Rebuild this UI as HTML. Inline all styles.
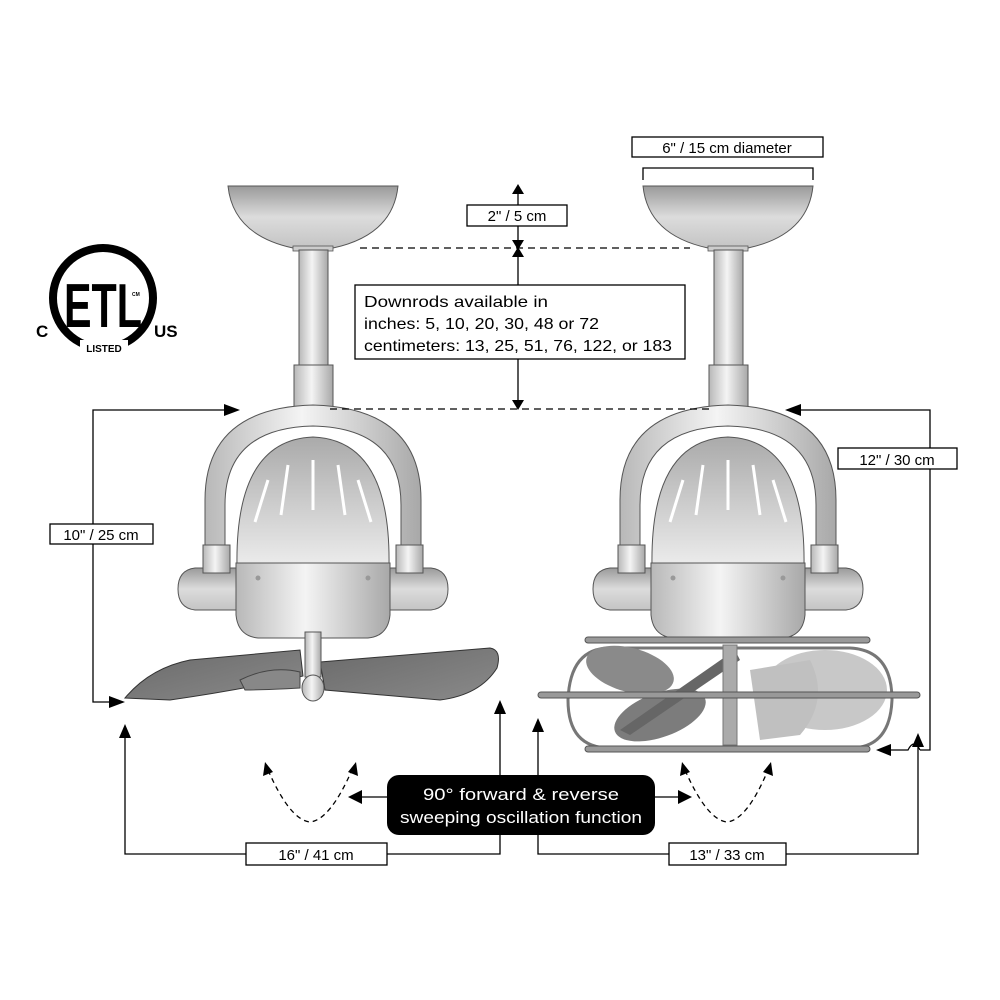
<!DOCTYPE html>
<html><head><meta charset="utf-8"><style>
html,body{margin:0;padding:0;background:#fff}
svg{display:block}
text{font-family:"Liberation Sans",sans-serif}
</style></head><body>
<svg width="1000" height="1000" viewBox="0 0 1000 1000" xmlns="http://www.w3.org/2000/svg">
<defs>
<linearGradient id="metal" x1="0" x2="1" y1="0" y2="0">
<stop offset="0" stop-color="#b8b8b8"/><stop offset="0.45" stop-color="#f4f4f4"/><stop offset="1" stop-color="#a8a8a8"/>
</linearGradient>
<linearGradient id="bowl" x1="0" x2="0" y1="0" y2="1">
<stop offset="0" stop-color="#9a9a9a"/><stop offset="0.5" stop-color="#dcdcdc"/><stop offset="1" stop-color="#c4c4c4"/>
</linearGradient>
<linearGradient id="dome" x1="0" x2="0" y1="0" y2="1">
<stop offset="0" stop-color="#aaa"/><stop offset="1" stop-color="#ececec"/>
</linearGradient>
<linearGradient id="blade" x1="0" x2="1" y1="0" y2="1">
<stop offset="0" stop-color="#6a6a6a"/><stop offset="1" stop-color="#8a8a8a"/>
</linearGradient>
<g id="fanbody">
  <path d="M-85,186 L85,186 Q80,235 20,248 L-20,248 Q-80,235 -85,186 Z" fill="url(#bowl)" stroke="#555" stroke-width="1"/>
  <rect x="-20" y="246" width="40" height="5" fill="#ccc" stroke="#555" stroke-width="0.8"/>
  <rect x="-14" y="250" width="29" height="116" fill="url(#metal)" stroke="#555" stroke-width="1"/>
  <rect x="-19" y="365" width="39" height="44" fill="url(#metal)" stroke="#555" stroke-width="1"/>
  <path d="M-108,548 L-108,500 Q-108,408 0,405 Q108,408 108,500 L108,548 L88,548 L88,505 Q88,428 0,426 Q-88,428 -88,505 L-88,548 Z" fill="url(#metal)" stroke="#555" stroke-width="1"/>
  <path d="M-75,568 L-118,568 Q-135,570 -135,589 Q-135,608 -118,610 L-75,610 Z" fill="url(#bowl)" stroke="#555" stroke-width="1"/>
  <path d="M75,568 L118,568 Q135,570 135,589 Q135,608 118,610 L75,610 Z" fill="url(#bowl)" stroke="#555" stroke-width="1"/>
  <rect x="-110" y="545" width="27" height="28" fill="url(#metal)" stroke="#555" stroke-width="1"/>
  <rect x="83" y="545" width="27" height="28" fill="url(#metal)" stroke="#555" stroke-width="1"/>
  <path d="M-76,566 Q-78,440 0,437 Q78,440 76,566 Z" fill="url(#dome)" stroke="#555" stroke-width="1"/>
  <path d="M-45,480 L-58,522 M-25,465 L-32,515 M0,460 L0,510 M25,465 L32,515 M45,480 L58,522" stroke="#fff" stroke-width="3"/>
  <path d="M-77,563 L77,563 L77,615 Q75,636 55,638 L-55,638 Q-75,636 -77,615 Z" fill="url(#metal)" stroke="#555" stroke-width="1"/>
  <circle cx="-55" cy="578" r="2.5" fill="#999"/><circle cx="55" cy="578" r="2.5" fill="#999"/>
</g>
</defs>

<g transform="translate(313,0)"><use href="#fanbody"/></g>
<path d="M125,698 Q150,668 190,660 L300,650 L303,676 Q240,690 170,700 Z" fill="url(#blade)" stroke="#333" stroke-width="1"/>
<path d="M320,662 L490,648 Q502,650 497,668 Q480,695 440,700 L325,690 Z" fill="url(#blade)" stroke="#333" stroke-width="1"/>
<path d="M240,680 Q270,665 300,672 L300,688 Q265,690 245,690 Z" fill="#888" stroke="#444"/>
<rect x="305" y="632" width="16" height="45" fill="url(#metal)" stroke="#555"/>
<ellipse cx="313" cy="688" rx="11" ry="13" fill="url(#metal)" stroke="#555"/>

<g transform="translate(728,0)"><use href="#fanbody"/></g>
<path d="M568,700 Q570,648 610,648 L850,648 Q892,650 892,700 Q890,748 850,748 L610,748 Q568,748 568,700 Z" fill="none" stroke="#777" stroke-width="3"/>
<ellipse cx="630" cy="670" rx="45" ry="22" fill="#8a8a8a" transform="rotate(15 630 670)"/>
<ellipse cx="660" cy="715" rx="48" ry="22" fill="#7c7c7c" transform="rotate(-20 660 715)"/>
<path d="M620,730 L735,650 L740,660 L630,735 Z" fill="#666"/>
<ellipse cx="825" cy="690" rx="62" ry="40" fill="#c8c8c8"/>
<path d="M750,670 L810,660 Q830,700 800,735 L760,740 Z" fill="#c0c0c0"/>
<rect x="723" y="645" width="14" height="100" fill="#aaa" stroke="#777"/>
<rect x="585" y="637" width="285" height="6" rx="3" fill="#999" stroke="#555"/>
<rect x="538" y="692" width="382" height="6" rx="3" fill="#999" stroke="#555"/>
<rect x="585" y="746" width="285" height="6" rx="3" fill="#999" stroke="#555"/>

<!-- ETL logo -->
<circle cx="103" cy="298" r="50" fill="none" stroke="#000" stroke-width="8"/>
<rect x="80" y="340" width="48" height="14" fill="#fff"/>
<text x="103" y="327" font-size="62" font-weight="bold" text-anchor="middle" fill="#000" textLength="78" lengthAdjust="spacingAndGlyphs">ETL</text>
<text x="104" y="352" font-size="10" font-weight="bold" text-anchor="middle" fill="#000">LISTED</text>
<text x="132" y="296" font-size="5" font-weight="bold" fill="#000">CM</text>
<text x="36" y="337" font-size="17" font-weight="bold" fill="#000">C</text>
<text x="154" y="337" font-size="17" font-weight="bold" fill="#000">US</text>

<g stroke="#000" stroke-width="1.3" stroke-dasharray="7,5" fill="none">
<line x1="360" y1="248" x2="690" y2="248"/>
<line x1="330" y1="409" x2="712" y2="409"/>
</g>
<g stroke="#000" stroke-width="1.3" fill="none">
<line x1="518" y1="190" x2="518" y2="404"/>
<polyline points="643,180 643,168 813,168 813,180"/>
<polyline points="235,410 93,410 93,702 120,702"/>
<polyline points="790,410 930,410 930,750 920,750"/>
<path d="M920,750 Q914,738 908,750 L880,750"/>
<polyline points="125,728 125,854 500,854 500,704"/>
<polyline points="538,722 538,854 918,854 918,738"/>
<line x1="355" y1="797" x2="388" y2="797"/>
<line x1="654" y1="797" x2="685" y2="797"/>
</g>
<g fill="#000">
<polygon points="518,184 512,194 524,194"/>
<polygon points="518,250 512,240 524,240"/>
<polygon points="518,247 512,257 524,257"/>
<polygon points="518,410 512,400 524,400"/>
<polygon points="240,410 224,404 224,416"/>
<polygon points="125,702 109,696 109,708"/>
<polygon points="785,410 801,404 801,416"/>
<polygon points="876,750 891,744 891,756"/>
<polygon points="125,724 119,738 131,738"/>
<polygon points="500,700 494,714 506,714"/>
<polygon points="538,718 532,732 544,732"/>
<polygon points="918,733 912,747 924,747"/>
<polygon points="348,797 362,790 362,804"/>
<polygon points="692,797 678,790 678,804"/>
<polygon points="265,762 263,776 273,772"/>
<polygon points="356,762 348,772 358,776"/>
<polygon points="682,762 680,776 690,772"/>
<polygon points="771,762 763,772 773,776"/>
</g>
<g stroke="#000" stroke-width="1.3" fill="none" stroke-dasharray="5,4">
<path d="M268,770 Q290,820 310,822 Q330,820 352,770"/>
<path d="M685,770 Q707,820 727,822 Q747,820 768,770"/>
</g>

<g fill="#fff" stroke="#000" stroke-width="1.3">
<rect x="467" y="205" width="100" height="21"/>
<rect x="355" y="285" width="330" height="74"/>
<rect x="632" y="137" width="191" height="20"/>
<rect x="50" y="524" width="103" height="20"/>
<rect x="838" y="448" width="119" height="21"/>
<rect x="246" y="843" width="141" height="22"/>
<rect x="669" y="843" width="117" height="22"/>
</g>
<g fill="#000" font-size="15">
<text x="517" y="221" text-anchor="middle">2" / 5 cm</text>
<text x="727" y="153" text-anchor="middle">6" / 15 cm diameter</text>
<text x="101" y="540" text-anchor="middle">10" / 25 cm</text>
<text x="897" y="465" text-anchor="middle">12" / 30 cm</text>
<text x="316" y="860" text-anchor="middle">16" / 41 cm</text>
<text x="727" y="860" text-anchor="middle">13" / 33 cm</text>
<text x="364" y="307" font-size="16" textLength="184" lengthAdjust="spacingAndGlyphs">Downrods available in</text>
<text x="364" y="329" font-size="16" textLength="235" lengthAdjust="spacingAndGlyphs">inches: 5, 10, 20, 30, 48 or 72</text>
<text x="364" y="351" font-size="16" textLength="308" lengthAdjust="spacingAndGlyphs">centimeters: 13, 25, 51, 76, 122, or 183</text>
</g>
<rect x="387" y="775" width="268" height="60" rx="12" fill="#000"/>
<text x="521" y="800" font-size="17" fill="#fff" text-anchor="middle" textLength="196" lengthAdjust="spacingAndGlyphs">90° forward &amp;  reverse</text>
<text x="521" y="823" font-size="17" fill="#fff" text-anchor="middle" textLength="242" lengthAdjust="spacingAndGlyphs">sweeping oscillation function</text>
</svg>
</body></html>
